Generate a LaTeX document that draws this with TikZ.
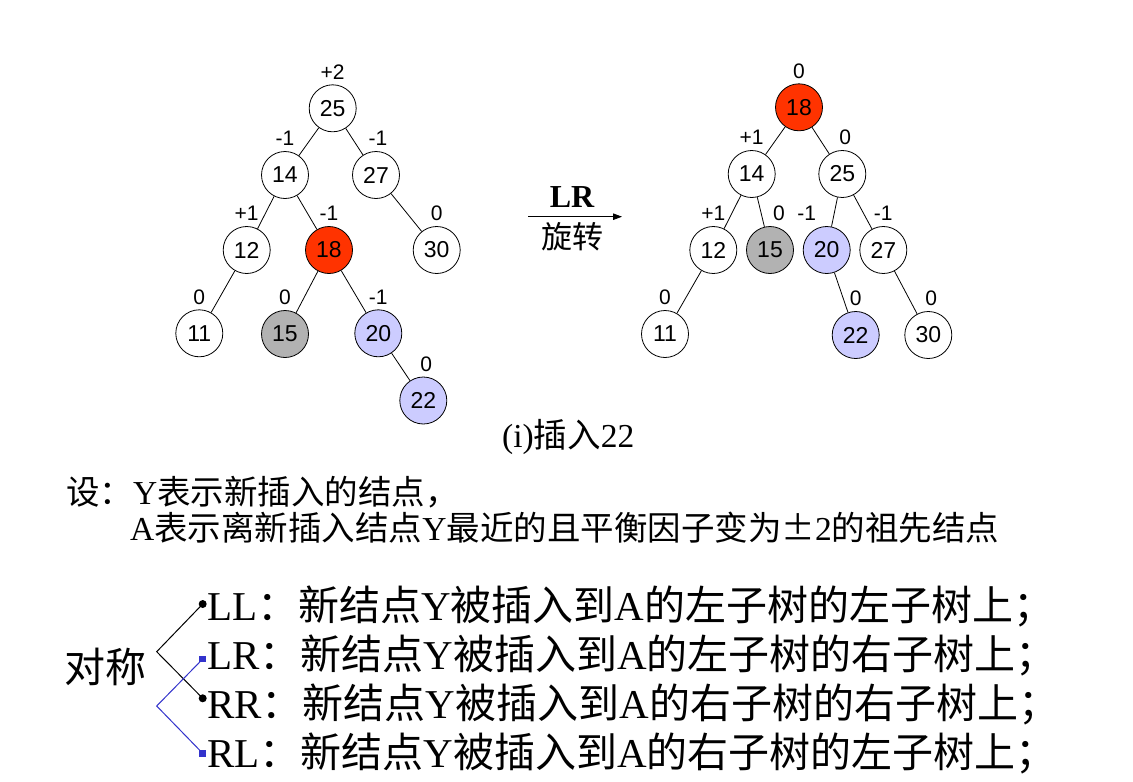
\documentclass[tikz,border=0pt]{standalone}
\usepackage{fontspec}
\setmainfont{Liberation Serif}
\newfontfamily\cjk{Noto Sans CJK SC}
\newfontfamily\sansf{Liberation Sans}
\usetikzlibrary{arrows.meta}
\newcommand{\cj}[1]{{\cjk #1}}
\definecolor{nred}{HTML}{FF3300}
\definecolor{ngray}{HTML}{B2B2B2}
\definecolor{nblue}{HTML}{CCCCFF}
\definecolor{bline}{HTML}{3333CC}
\begin{document}
\begin{tikzpicture}[x=1pt,y=-1pt,
  tn/.style={circle,draw,line width=0.8pt,minimum size=47pt,inner sep=0pt,font=\sansf\fontsize{23}{25}\selectfont},
  bf/.style={inner sep=0pt,font=\sansf\fontsize{21}{23}\selectfont,text height=15pt,text depth=0pt},
  every label/.style={bf},
  treeedge/.style={line width=0.8pt},
  redn/.style={fill=nred},
  grayn/.style={fill=ngray},
  bluen/.style={fill=nblue},
  txt/.style={inner sep=0pt,anchor=base west,font=\fontsize{33.5}{36}\selectfont},
  btxt/.style={inner sep=0pt,anchor=base west,font=\fontsize{41}{44}\selectfont},
  bdot/.style={circle,fill=black,minimum size=8pt,inner sep=0pt},
  bsq/.style={rectangle,fill=bline,minimum size=6.5pt,inner sep=0pt},
  ld/.style={label distance=5pt}
]
\useasboundingbox (0,0) rectangle (1133,782);
\fill[white] (0,0) rectangle (1133,782);

% ---- left tree
\node[tn,label={[ld]above:+2}] (L25) at (332.7,108.3) {25};
\node[tn,label={[ld]above:-1}] (L14) at (285,175) {14};
\node[tn,label={[ld,xshift=2pt]above:-1}] (L27) at (376,175) {27};
\node[tn,label={[ld]above:+1}] (L12) at (246.7,250) {12};
\node[tn,redn,label={[ld]above:-1}] (L18) at (329,250) {18};
\node[tn,label={[ld]above:0}] (L30) at (436.7,250) {30};
\node[tn,label={[ld]above:0}] (L11) at (199.3,333.3) {11};
\node[tn,grayn,label={[ld]above:0}] (L15) at (285,334) {15};
\node[tn,bluen,label={[ld]above:-1}] (L20) at (378.3,333.3) {20};
\node[tn,bluen,label={[ld,xshift=3pt]above:0}] (L22) at (423.3,400.5) {22};
\draw[treeedge] (L25) -- (L14);
\draw[treeedge] (L25) -- (L27);
\draw[treeedge] (L14) -- (L12);
\draw[treeedge] (L14) -- (L18);
\draw[treeedge] (L27) -- (L30);
\draw[treeedge] (L12) -- (L11);
\draw[treeedge] (L18) -- (L15);
\draw[treeedge] (L18) -- (L20);
\draw[treeedge] (L20) -- (L22);

% ---- arrow
\coordinate (aS) at (528.3,216.7);
\coordinate (aE) at (622,216.7);
\draw[line width=0.9pt,-{Triangle[length=9pt,width=6.5pt]}] (aS) -- (aE);
\node[inner sep=0pt,font=\bfseries\fontsize{32}{34}\selectfont] (lr) at (572,197) {LR};
\node[inner sep=0pt,font=\cjk\fontsize{31}{34}\selectfont] (xz) at (572,237) {旋转};

% ---- right tree
\node[tn,redn,label={[ld]above:0}] (R18) at (799,107.3) {18};
\node[tn,label={[ld]above:+1}] (R14) at (751.7,174) {14};
\node[tn,label={[ld,xshift=3pt]above:0}] (R25) at (842.3,174) {25};
\node[tn,label={[ld]above:+1}] (R12) at (713.3,250) {12};
\node[tn,grayn,label={[ld,xshift=9pt]above:0}] (R15) at (770,250) {15};
\node[tn,bluen,label={[ld,xshift=-20pt]above:-1}] (R20) at (826.7,250) {20};
\node[tn,label={[ld]above:-1}] (R27) at (883.3,250) {27};
\node[tn,label={[ld]above:0}] (R11) at (665,334) {11};
\node[tn,bluen,label={[ld]above:0}] (R22) at (855.7,335) {22};
\node[tn,label={[ld,xshift=3pt]above:0}] (R30) at (928.3,335) {30};
\draw[treeedge] (R18) -- (R14);
\draw[treeedge] (R18) -- (R25);
\draw[treeedge] (R14) -- (R12);
\draw[treeedge] (R14) -- (R15);
\draw[treeedge] (R25) -- (R20);
\draw[treeedge] (R25) -- (R27);
\draw[treeedge] (R12) -- (R11);
\draw[treeedge] (R20) -- (R22);
\draw[treeedge] (R27) -- (R30);

% ---- captions and text
\node[txt] (cap) at (502,447) {(i)\cj{插入}22};
\node[txt] (t1) at (66,504) {\cj{设：}Y\cj{表示新插入的结点，}};
\node[txt] (t2) at (130,540) {A\cj{表示离新插入结点}Y\cj{最近的且平衡因子变为±}2\cj{的祖先结点}};

\node[btxt] (dc) at (64,682) {\cj{对称}};
\node[btxt] (tLL) at (207,620) {LL\cj{：新结点}Y\cj{被插入到}A\cj{的左子树的左子树上；}};
\node[btxt] (tLR) at (207,669) {LR\cj{：新结点}Y\cj{被插入到}A\cj{的左子树的右子树上；}};
\node[btxt] (tRR) at (207,718) {RR\cj{：新结点}Y\cj{被插入到}A\cj{的右子树的右子树上；}};
\node[btxt] (tRL) at (207,767) {RL\cj{：新结点}Y\cj{被插入到}A\cj{的右子树的左子树上；}};

% ---- bracket
\coordinate (vk) at (156.7,651.7);
\coordinate (vb) at (156.7,706);
\node[bdot] (dLL) at (202.7,604) {};
\node[bdot] (dRR) at (202.7,698.3) {};
\node[bsq] (sLR) at (202.7,659) {};
\node[bsq] (sRL) at (202.7,753.3) {};
\draw[line width=1pt] (dLL.center) -- (vk) -- (dRR.center);
\draw[bline,line width=1pt] (sLR.center) -- (vb) -- (sRL.center);
\end{tikzpicture}
\end{document}
